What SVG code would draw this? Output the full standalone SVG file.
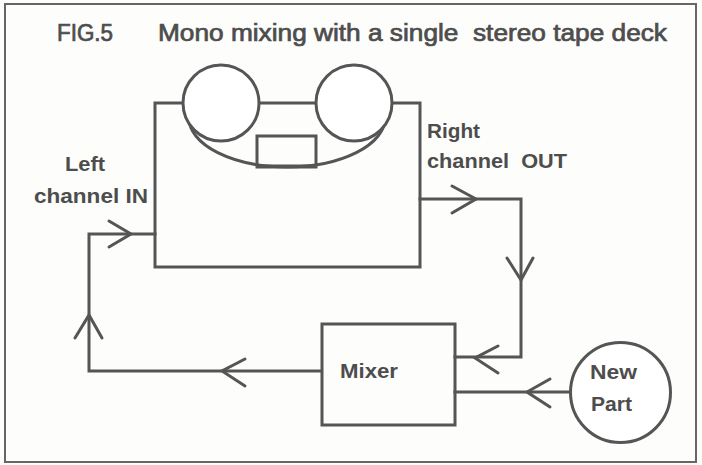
<svg xmlns="http://www.w3.org/2000/svg" width="702" height="465" viewBox="0 0 702 465">
<style>
.ln{fill:none;stroke:#555;stroke-width:3;stroke-linejoin:miter;stroke-linecap:square}
.ar{fill:none;stroke:#555;stroke-width:3;stroke-linecap:round;stroke-linejoin:miter}
.sh{fill:#fff;stroke:#555;stroke-width:3}
.t{font-family:"Liberation Sans",Arial,sans-serif;fill:#4d4d4d;font-weight:bold}
.ti{font-family:"Liberation Sans",Arial,sans-serif;fill:#4d4d4d;stroke:#4d4d4d;stroke-width:0.7}
</style>
<rect x="0" y="0" width="702" height="465" fill="#fdfdfb"/>
<rect x="5" y="4" width="691" height="458" fill="none" stroke="#666" stroke-width="2"/>
<g id="title">
<text class="ti" x="57" y="41" font-size="23" textLength="56" lengthAdjust="spacingAndGlyphs">FIG.5</text>
<text class="ti" x="158" y="41" font-size="23" textLength="509" lengthAdjust="spacingAndGlyphs" xml:space="preserve">Mono mixing with a single  stereo tape deck</text>
</g>
<g id="connectors">
<polyline class="ln" points="155,234 89,234 89,371 321,371"/>
<polyline class="ln" points="420,199 521,199 521,357 455,357"/>
<line class="ln" x1="455" y1="392" x2="570" y2="392"/>
<polyline class="ar" points="109,221 131,234 109,247"/>
<polyline class="ar" points="75,338 89,315 102,338"/>
<polyline class="ar" points="245,359 222,371 245,386"/>
<polyline class="ar" points="452,186 476,199 452,213"/>
<polyline class="ar" points="507,258 521,280 533,258"/>
<polyline class="ar" points="498,346 475,358 498,373"/>
<polyline class="ar" points="550,379 527,392 550,407"/>
</g>
<g id="deck">
<rect class="ln" x="155" y="103" width="265" height="164"/>
<path class="ln" d="M189,118 A98,49 0 0 0 385,118"/>
<rect class="ln" x="257" y="136" width="59" height="31"/>
<line x1="257" y1="166" x2="316" y2="166" stroke="#555" stroke-width="3"/>
<circle class="sh" cx="221" cy="103" r="38"/>
<circle class="sh" cx="354" cy="103" r="38"/>
</g>
<g id="left-label">
<text class="t" x="65" y="171" font-size="20" textLength="40" lengthAdjust="spacingAndGlyphs">Left</text>
<text class="t" x="34" y="203" font-size="20" textLength="114" lengthAdjust="spacingAndGlyphs" xml:space="preserve">channel IN</text>
</g>
<g id="right-label">
<text class="t" x="427" y="138" font-size="20" textLength="53" lengthAdjust="spacingAndGlyphs">Right</text>
<text class="t" x="427" y="168" font-size="20" textLength="140" lengthAdjust="spacingAndGlyphs" xml:space="preserve">channel  OUT</text>
</g>
<g id="mixer">
<rect class="ln" x="322" y="324" width="133" height="101"/>
<text class="t" x="340" y="378" font-size="21" textLength="58" lengthAdjust="spacingAndGlyphs">Mixer</text>
</g>
<g id="new-part">
<circle class="sh" cx="620.5" cy="392.5" r="50"/>
<text class="t" x="590" y="379" font-size="21" textLength="47" lengthAdjust="spacingAndGlyphs">New</text>
<text class="t" x="591" y="411" font-size="21" textLength="41" lengthAdjust="spacingAndGlyphs">Part</text>
</g>
</svg>
